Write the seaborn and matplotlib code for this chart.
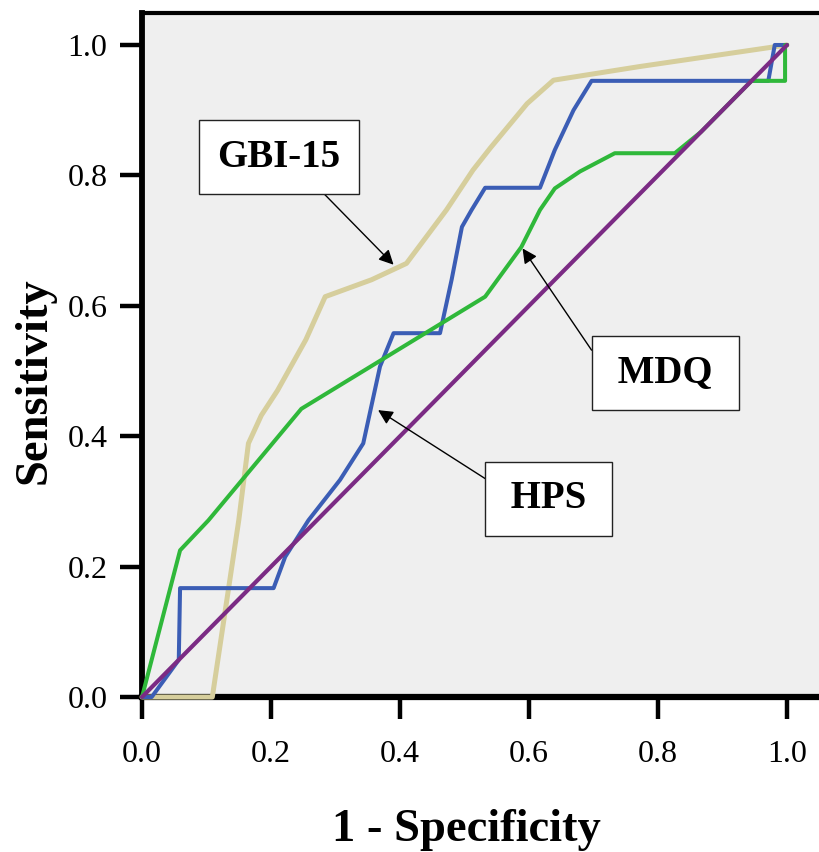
import matplotlib
matplotlib.use('Agg')
import matplotlib.pyplot as plt
import seaborn as sns
import pandas as pd
from matplotlib.ticker import FormatStrFormatter

# courbes ROC
gbi_fpr = [0, 0.109, 0.150, 0.165, 0.185, 0.21, 0.254, 0.284, 0.356, 0.410, 0.472, 0.513, 0.540, 0.597, 0.638, 0.772, 1.0]
gbi_tpr = [0, 0, 0.271, 0.389, 0.432, 0.47, 0.548, 0.614, 0.640, 0.665, 0.747, 0.808, 0.842, 0.910, 0.946, 0.967, 1.0]

hps_fpr = [0, 0.015, 0.057, 0.059, 0.204, 0.222, 0.258, 0.307, 0.343, 0.369, 0.390, 0.462, 0.480, 0.496, 0.511,
           0.532, 0.617, 0.640, 0.669, 0.697, 0.971, 0.981, 1.0]
hps_tpr = [0, 0, 0.057, 0.167, 0.167, 0.215, 0.271, 0.333, 0.389, 0.507, 0.558, 0.558, 0.640, 0.721, 0.747,
           0.781, 0.781, 0.839, 0.900, 0.945, 0.945, 1.0, 1.0]

mdq_fpr = [0, 0.059, 0.103, 0.247, 0.532, 0.588, 0.617, 0.640, 0.679, 0.733, 0.826, 0.867, 0.945, 0.997, 0.997, 1.0]
mdq_tpr = [0, 0.225, 0.271, 0.442, 0.614, 0.690, 0.747, 0.780, 0.806, 0.834, 0.834, 0.867, 0.945, 0.945, 1.0, 1.0]

ref_fpr = [0, 1]
ref_tpr = [0, 1]

ticks = [0.0, 0.2, 0.4, 0.6, 0.8, 1.0]

sns.set_style('white')
plt.rcParams['font.family'] = ['Liberation Serif', 'DejaVu Serif']
plt.rcParams['text.color'] = 'black'
plt.rcParams['xtick.color'] = 'black'
plt.rcParams['ytick.color'] = 'black'
plt.rcParams['axes.labelcolor'] = 'black'

fig = plt.figure(figsize=(8.19, 8.52), dpi=100)
ax = fig.add_axes([0.1734, 0.1819, 0.8266, 0.8028])
ax.set_facecolor('#efefef')

series = [
    ('GBI-15', gbi_fpr, gbi_tpr, '#d6ce9c', 3.6),
    ('HPS', hps_fpr, hps_tpr, '#3b5db5', 2.9),
    ('MDQ', mdq_fpr, mdq_tpr, '#2fb83a', 2.9),
    ('Ref', ref_fpr, ref_tpr, '#7b2b84', 3.0),
]
for name, fx, fy, col, lw in series:
    df = pd.DataFrame({'fpr': fx, 'tpr': fy})
    sns.lineplot(data=df, x='fpr', y='tpr', sort=False, estimator=None,
                 color=col, linewidth=lw, ax=ax, legend=False,
                 zorder=3, clip_on=False)

ax.set_xlim(0, 1.0496)
ax.set_ylim(0, 1.049)
ax.set_xticks(ticks)
ax.set_yticks(ticks)
ax.xaxis.set_major_formatter(FormatStrFormatter('%.1f'))
ax.yaxis.set_major_formatter(FormatStrFormatter('%.1f'))

for s in ['left', 'bottom', 'top']:
    ax.spines[s].set_color('black')
ax.spines['left'].set_linewidth(4.2)
ax.spines['bottom'].set_linewidth(4.5)
ax.spines['top'].set_linewidth(3.0)
ax.spines['right'].set_visible(False)

ax.tick_params(axis='x', direction='out', length=16, width=3.2, pad=15, labelsize=23,
               bottom=True, color='black')
ax.tick_params(axis='y', direction='out', length=16, width=3.2, pad=9, labelsize=23,
               left=True, color='black')

ax.set_xlabel('1 - Specificity', fontsize=33.5, fontweight='bold')
ax.set_ylabel('Sensitivity', fontsize=33.5, fontweight='bold')
ax.xaxis.set_label_coords(0.479, -0.163)
ax.yaxis.set_label_coords(-0.128, 0.462)

# étiquettes encadrées avec flèches
labels = [
    ('GBI-15', (0.212, 0.828), (0.281, 0.773), (0.39, 0.663)),
    ('\u2009MDQ\u2009', (0.811, 0.497), (0.697, 0.532), (0.590, 0.688)),
    ('\u2009HPS\u2009', (0.630, 0.304), (0.532, 0.335), (0.366, 0.440)),
]
for txt, center, start, tip in labels:
    ax.annotate('', xy=tip, xytext=start,
                arrowprops=dict(arrowstyle='-|>', color='black', lw=1.0,
                                mutation_scale=22, shrinkA=0, shrinkB=0))
    ax.text(center[0], center[1], txt, fontsize=28, fontweight='bold',
            ha='center', va='center', zorder=5,
            bbox=dict(boxstyle='square,pad=0.47', facecolor='white',
                      edgecolor='#222222', linewidth=1.0))

fig.savefig('out.png', dpi=100)
